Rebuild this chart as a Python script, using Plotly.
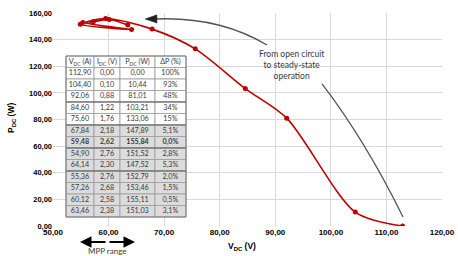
import plotly.graph_objects as go

# ---- data ----
v_dc = [112.90, 104.40, 92.06, 84.60, 75.60, 67.84, 59.48, 54.90, 64.14, 55.36, 57.26, 60.12, 63.46]
i_dc = [0.00, 0.10, 0.88, 1.22, 1.76, 2.18, 2.62, 2.76, 2.30, 2.76, 2.68, 2.58, 2.38]
p_dc = [0.00, 10.44, 81.01, 103.21, 133.06, 147.89, 155.84, 151.52, 147.52, 152.79, 153.46, 155.11, 151.03]
delta_p = ["100%", "93%", "48%", "34%", "15%", "5,1%", "0,0%", "2,8%", "5,3%", "2,0%", "1,5%", "0,5%", "3,1%"]
headers = ["V<sub>DC</sub> (A)", "I<sub>DC</sub> (V)", "P<sub>DC</sub> (W)", "ΔP (%)"]
bold_row = 6
x_ticks = [50, 60, 70, 80, 90, 100, 110, 120]
y_ticks = [0, 20, 40, 60, 80, 100, 120, 140, 160]

RED = "#C00000"
GREY_TXT = "#3a3a3a"
W, H = 458, 256
ML, MR, MT, MB = 53, 16, 13, 30
PW, PH = W - ML - MR, H - MT - MB

def px_x(p):
    return (p - ML) / PW

def px_y(p):
    return (H - MB - p) / PH

def fmt(v):
    return f"{v:.2f}".replace(".", ",")

rows = [[fmt(a), fmt(b), fmt(c), d] for a, b, c, d in zip(v_dc, i_dc, p_dc, delta_p)]

fig = go.Figure()

fig.add_trace(go.Scatter(
    x=v_dc, y=p_dc, mode="lines+markers",
    line=dict(color=RED, width=1.6, shape="spline", smoothing=0.8),
    marker=dict(color=RED, size=5),
    showlegend=False, hoverinfo="skip",
))

# ---- table (paper coordinates) ----
col_edges = [px_x(p) for p in (66, 94, 120, 155, 186)]
tab_top, tab_bottom = px_y(56), px_y(217)
n_rows = len(rows) + 1
rh = (tab_top - tab_bottom) / n_rows

shapes = []
annotations = []
for r in range(n_rows):
    y1 = tab_top - r * rh
    y0 = y1 - rh
    fill = "white" if r <= 5 else "#dcdcdc"
    for c in range(4):
        shapes.append(dict(type="rect", xref="paper", yref="paper",
                           x0=col_edges[c], x1=col_edges[c + 1], y0=y0, y1=y1,
                           fillcolor=fill, line=dict(color="#9a9a9a", width=0.8), layer="above"))
        if r == 0:
            txt = headers[c]
        else:
            txt = rows[r - 1][c]
            if r - 1 == bold_row:
                txt = f"<b>{txt}</b>"
        annotations.append(dict(x=(col_edges[c] + col_edges[c + 1]) / 2, y=(y0 + y1) / 2,
                                xref="paper", yref="paper", text=txt, showarrow=False,
                                xanchor="center", yanchor="middle",
                                width=(col_edges[c + 1] - col_edges[c]) * PW - 2,
                                height=rh * PH - 2, borderpad=0, valign="middle",
                                font=dict(family="Lato", size=7.2, color=GREY_TXT)))

# darker separators between row groups
for r in (4, 6, 8, 10):
    yb = tab_top - r * rh
    shapes.append(dict(type="line", xref="paper", yref="paper",
                       x0=col_edges[0], x1=col_edges[-1], y0=yb, y1=yb,
                       line=dict(color="#5a5a5a", width=1), layer="above"))
shapes.append(dict(type="rect", xref="paper", yref="paper",
                   x0=col_edges[0], x1=col_edges[-1], y0=tab_bottom, y1=tab_top,
                   line=dict(color="#7a7a7a", width=1), layer="above"))

shapes += [
    # curved arrow to the top of the curve
    dict(type="path", xref="x", yref="y",
         path="M 68.36,155.5 C 76.45,157.0 82.75,150.2 88.51,136.0",
         line=dict(color="#555555", width=1.3)),
    dict(type="path", xref="x", yref="y",
         path="M 66.56,155.5 L 68.7,158.6 L 68.7,152.4 Z",
         fillcolor="#222222", line=dict(color="#222222", width=0.5)),
    # line down to open-circuit point
    dict(type="path", xref="x", yref="y",
         path="M 98.41,106.7 Q 106.15,64.6 112.98,6.76",
         line=dict(color="#555555", width=1.3)),
]

annotations += [
    dict(x=93.0, y=121, xref="x", yref="y", showarrow=False,
         text="From open circuit<br>to steady-state<br>operation",
         font=dict(family="Lato", size=8.5, color=GREY_TXT), align="center"),
    dict(x=54.86, y=px_y(242), xref="x", yref="paper", text="", showarrow=True,
         ax=27, ay=0, arrowhead=2, arrowsize=1.15, arrowwidth=2, arrowcolor="black", standoff=0),
    dict(x=64.76, y=px_y(242), xref="x", yref="paper", text="", showarrow=True,
         ax=-27, ay=0, arrowhead=2, arrowsize=1.15, arrowwidth=2, arrowcolor="black", standoff=0),
    dict(x=59.8, y=px_y(250.5), xref="x", yref="paper", text="MPP range", showarrow=False,
         yanchor="middle", font=dict(family="Lato", size=8, color=GREY_TXT)),
    # axis titles
    dict(x=px_x(242), y=px_y(246), xref="paper", yref="paper", showarrow=False,
         text="<b>V<sub>DC</sub> (V)</b>", yanchor="middle",
         font=dict(family="Liberation Sans", size=8.5, color="black")),
    dict(x=px_x(11), y=px_y(118), xref="paper", yref="paper", showarrow=False,
         text="<b>P<sub>DC</sub> (W)</b>", textangle=-90, xanchor="center", yanchor="middle",
         font=dict(family="Liberation Sans", size=8.5, color="black")),
]

fig.update_layout(
    width=W, height=H, autosize=False,
    margin=dict(l=ML, r=MR, t=MT, b=MB, pad=0, autoexpand=False),
    paper_bgcolor="white", plot_bgcolor="white",
    separators=",.",
    shapes=shapes, annotations=annotations,
    xaxis=dict(range=[50, 120], tickvals=x_ticks, tickformat=".2f", automargin=False,
               showgrid=True, gridcolor="#d9d9d9", gridwidth=1, zeroline=False,
               showline=False, ticks="",
               tickfont=dict(family="Liberation Sans", size=8, color="black", weight="bold")),
    yaxis=dict(range=[0, 160], tickvals=y_ticks, tickformat=".2f", automargin=False,
               showgrid=True, gridcolor="#d9d9d9", gridwidth=1, zeroline=False,
               showline=False, ticks="",
               tickfont=dict(family="Liberation Sans", size=7.5, color="black", weight="bold")),
)

fig.write_html("out.html", config={"displayModeBar": False, "responsive": False},
               post_script="document.body.style.margin='0px';document.body.style.overflow='hidden';")
